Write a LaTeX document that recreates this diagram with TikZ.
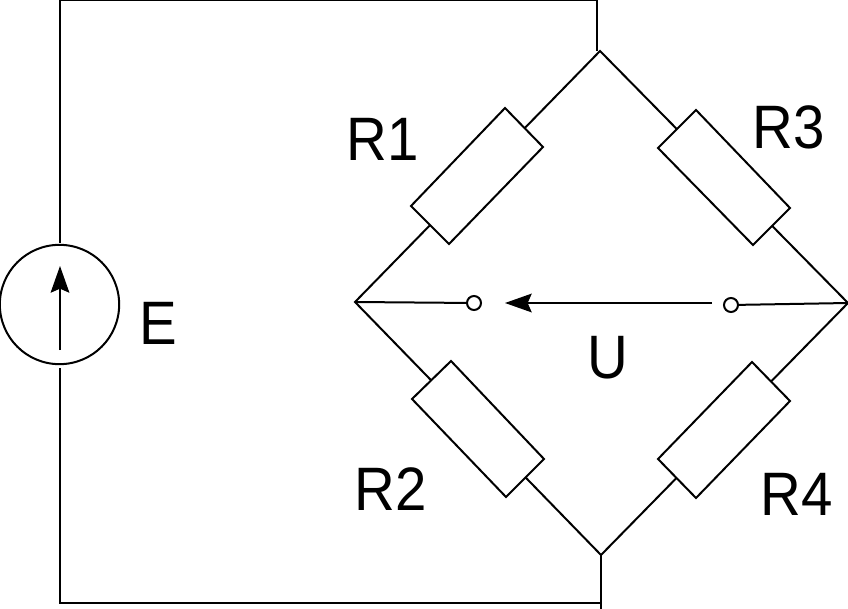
\documentclass[tikz,border=0pt]{standalone}
\usepackage{fontspec}
\setmainfont{Liberation Sans}
\newfontfamily\labfont[FakeStretch=0.92]{Liberation Sans}
\usetikzlibrary{arrows.meta}
\tikzset{wire/.style={line width=1.5pt,black},
res/.style={draw=black,line width=1.5pt,fill=white},
lab/.style={font=\labfont\fontsize{46}{46}\selectfont,inner sep=0pt,anchor=center},
term/.style={circle,draw=black,line width=1.5pt,fill=white,minimum size=10.5pt,inner sep=0pt},
arr/.style={-{Stealth[length=20pt,width=14pt,inset=3pt]},wire}}
\begin{document}
\begin{tikzpicture}[x=0.75pt,y=-0.75pt]
\useasboundingbox (0,0) rectangle (848,609);
\coordinate (T) at (600,51);
\coordinate (L) at (355,302);
\coordinate (Rr) at (848,303);
\coordinate (B) at (601,555);
\coordinate (TL) at (597,0);
\coordinate (TW) at (60,0);
\coordinate (BW) at (60,603);
\coordinate (BR) at (601,603);
\coordinate (Es) at (60,243);
\coordinate (Ee) at (60,368);
\draw[wire] (Es) -- (TW) -- (TL) -- (597,51);
\draw[wire] (Ee) -- (BW) -- (BR);
\draw[wire] (B) -- (601,609);
\draw[wire] (L) -- (T) -- (Rr) -- (B) -- cycle;
\draw[res] (505,108) -- (543,147) -- (449,244) -- (411,206) -- cycle;
\draw[res] (696,110) -- (790,208) -- (753,245) -- (658,148) -- cycle;
\draw[res] (451,361) -- (544,459) -- (506,497) -- (412,399) -- cycle;
\draw[res] (752,362) -- (790,401) -- (696,498) -- (658,459) -- cycle;
\node[circle,draw=black,line width=1.5pt,fill=white,minimum size=89.5pt,inner sep=0pt] (E) at (59.5,304.5) {};
\coordinate (As) at (60,350);
\coordinate (Ae) at (60,266);
\draw[arr] (As) -- (Ae);
\node[term] (t1) at (474,303) {};
\node[term] (t2) at (731,305) {};
\draw[wire] (L) -- (t1);
\draw[wire] (t2) -- (Rr);
\coordinate (A2s) at (712,303);
\coordinate (A2e) at (505,303);
\draw[arr] (A2s) -- (A2e);
\node[lab] (r1) at (383,139) {R1};
\node[lab] (r3) at (789,127) {R3};
\node[lab] (r2) at (391,489) {R2};
\node[lab] (r4) at (797,494) {R4};
\node[lab] (e) at (158,323) {E};
\node[lab] (u) at (608,358) {U};
\end{tikzpicture}
\end{document}
